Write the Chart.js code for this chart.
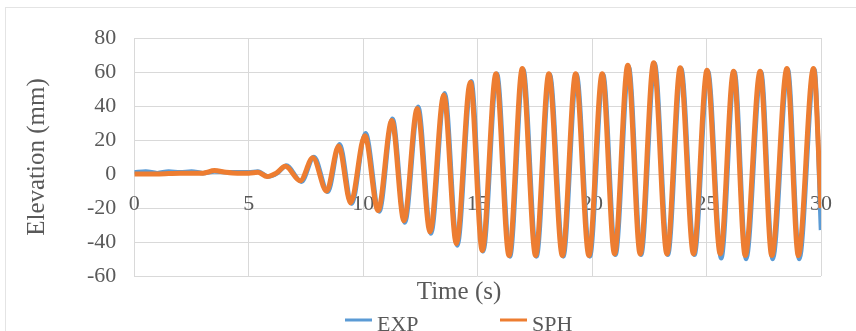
<!DOCTYPE html>
<html>
<head>
<meta charset="utf-8">
<script src="https://cdn.jsdelivr.net/npm/chart.js@4.4.1/dist/chart.umd.min.js"></script>
<style>
  html, body { margin: 0; padding: 0; background: #fff; overflow: hidden; }
  #wrap { position: relative; width: 856px; height: 331px; }
</style>
</head>
<body>
<div id="wrap"><canvas id="waveChart"></canvas></div>
<script>
const seriesNames = ['EXP', 'SPH'];

const expTime = [
  0, 0.5, 1, 1.5, 2, 2.5, 3, 3.5, 4, 4.5,
  5, 5.4, 5.85, 6.25, 6.65, 7.3, 7.85, 8.45, 8.97, 9.5,
  10.1, 10.7, 11.28, 11.82, 12.4, 12.96, 13.56, 14.11, 14.72, 15.24,
  15.84, 16.41, 16.99, 17.57, 18.15, 18.74, 19.32, 19.9, 20.48, 21.02,
  21.6, 22.14, 22.73, 23.31, 23.89, 24.47, 25.06, 25.64, 26.22, 26.73,
  27.38, 27.89, 28.55, 29.05, 29.71, 30
];
const expElevation = [
  1, 1.5, 0.5, 1.5, 1, 1.5, 0.5, 1.5, 1, 1,
  1, 1.5, -1.5, 0.5, 5, -4.5, 10, -10.5, 17.5, -17.5,
  24, -22, 32.5, -28.5, 39.5, -35, 47.5, -42, 54.5, -45.5,
  59, -48.5, 61.5, -48.5, 58.5, -48.5, 58.5, -48.5, 58.5, -47.5,
  63, -47.5, 65, -47.5, 62, -47.5, 60.5, -49.5, 60, -50,
  60, -50, 61.5, -50, 61.5, -33
];

// SPH: simulated elevation
const sphTime = [
  0, 1, 2, 3, 3.5, 4, 4.5, 5, 5.4, 5.8,
  6.2, 6.6, 7.25, 7.8, 8.4, 8.93, 9.45, 10.07, 10.65, 11.25,
  11.78, 12.36, 12.92, 13.52, 14.07, 14.68, 15.2, 15.8, 16.37, 16.95,
  17.53, 18.11, 18.7, 19.28, 19.86, 20.44, 20.98, 21.56, 22.1, 22.69,
  23.27, 23.85, 24.43, 25.02, 25.6, 26.18, 26.69, 27.34, 27.85, 28.51,
  29.01, 29.67, 30
];
const sphElevation = [
  0, 0, 0.5, 0.5, 2, 1, 0.5, 0.5, 1, -1.5,
  0.5, 4.5, -4, 9.5, -10, 16.5, -17, 22.5, -21.5, 31.5,
  -27.5, 38.5, -34, 46.5, -41, 54, -45, 59, -48, 62,
  -48, 59, -48, 59, -48, 59, -47, 64, -47, 65.5,
  -47, 62.5, -47, 61, -47, 60.5, -48, 60.5, -48, 62,
  -48, 62, -20
];

const timeTicks = [0, 5, 10, 15, 20, 25, 30];
const elevationTicks = [-60, -40, -20, 0, 20, 40, 60, 80];
const timeTitle = 'Time (s)';

const serif = '"Liberation Serif", "Times New Roman", serif';
const textGray = '#595959';
const gridGray = '#d9d9d9';
const expColor = '#5b9bd5';
const sphColor = '#ed7d31';

function toPoints(times, values) {
  return times.map((t, i) => ({ x: t, y: values[i] }));
}

// outer chart frame, like the Excel chart area border
const frame = {
  id: 'frame',
  beforeDraw(chart) {
    const { ctx } = chart;
    ctx.save();
    ctx.strokeStyle = '#e4e4e4';
    ctx.lineWidth = 1;
    ctx.strokeRect(5.5, 7.5, chart.width, chart.height);
    ctx.restore();
  },
};

// x labels sit below the zero line, under the lines
const timeLabels = {
  id: 'timeLabels',
  beforeDatasetsDraw(chart) {
    const { ctx, scales } = chart;
    const y = scales.y.getPixelForValue(0) + 30;
    ctx.save();
    ctx.font = '22px ' + serif;
    ctx.fillStyle = textGray;
    ctx.textAlign = 'center';
    ctx.textBaseline = 'middle';
    timeTicks.forEach((t) => {
      ctx.fillText(String(t), scales.x.getPixelForValue(t), y);
    });
    ctx.restore();
  },
};

// axis title and bottom legend are centred on the whole (wider) Excel chart,
// so they sit left of the plot centre; legend is cut off by the picture edge
const bottomLegend = {
  id: 'bottomLegend',
  afterDraw(chart) {
    const { ctx } = chart;
    const starts = [345, 500];
    const colors = [expColor, sphColor];
    const y = 322;
    ctx.save();
    ctx.fillStyle = textGray;
    ctx.textBaseline = 'middle';
    ctx.textAlign = 'center';
    ctx.font = '25px ' + serif;
    ctx.fillText(timeTitle, 459, 292);

    ctx.textAlign = 'left';
    ctx.font = '22px ' + serif;
    seriesNames.forEach((name, i) => {
      ctx.strokeStyle = colors[i];
      ctx.lineWidth = 3;
      ctx.beginPath();
      ctx.moveTo(starts[i], y - 2);
      ctx.lineTo(starts[i] + 27, y - 2);
      ctx.stroke();
      ctx.fillText(name, starts[i] + 32, y + 3);
    });
    ctx.restore();
  },
};

new Chart(document.getElementById('waveChart'), {
  type: 'line',
  data: {
    datasets: [
      {
        label: seriesNames[0],
        data: toPoints(expTime, expElevation),
        borderColor: expColor,
        borderWidth: 4.5,
        pointRadius: 0,
        cubicInterpolationMode: 'monotone',
        order: 1,
      },
      {
        label: seriesNames[1],
        data: toPoints(sphTime, sphElevation),
        borderColor: sphColor,
        borderWidth: 5,
        pointRadius: 0,
        cubicInterpolationMode: 'monotone',
        order: 0,
      },
    ],
  },
  options: {
    responsive: true,
    maintainAspectRatio: false,
    animation: false,
    layout: { padding: { left: 18, right: 35, top: 38, bottom: 55 } },
    plugins: {
      legend: { display: false },
      tooltip: { enabled: false },
    },
    scales: {
      x: {
        type: 'linear',
        min: 0,
        max: 30,
        afterBuildTicks(scale) {
          scale.ticks = timeTicks.map((v) => ({ value: v }));
        },
        ticks: { display: false },
        grid: { color: gridGray, drawTicks: false },
        border: { display: false },
      },
      y: {
        min: -60,
        max: 80,
        afterBuildTicks(scale) {
          scale.ticks = elevationTicks.map((v) => ({ value: v }));
        },
        ticks: {
          color: textGray,
          font: { family: serif, size: 22 },
          padding: 18,
        },
        grid: { color: gridGray, drawTicks: false },
        border: { display: false },
        title: {
          display: true,
          text: 'Elevation (mm)',
          color: textGray,
          font: { family: serif, size: 25, lineHeight: 1.2 },
          padding: { top: 4, bottom: 17 },
        },
      },
    },
  },
  plugins: [frame, timeLabels, bottomLegend],
});
</script>
</body>
</html>
